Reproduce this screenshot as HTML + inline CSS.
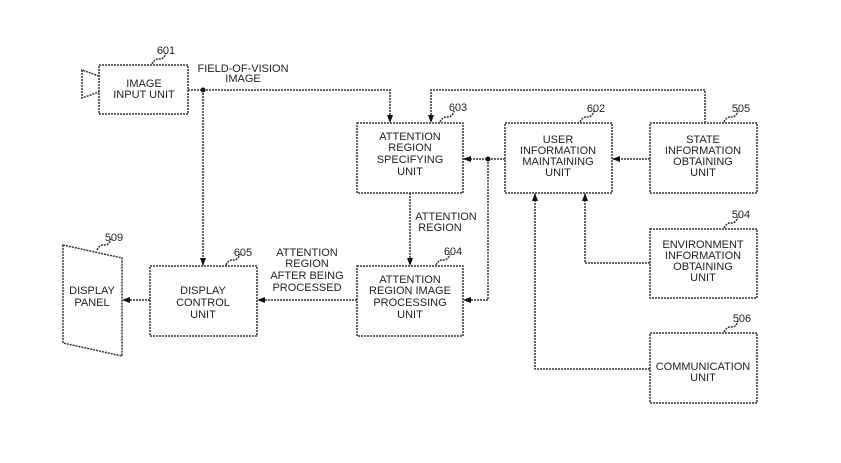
<!DOCTYPE html>
<html><head><style>body{margin:0;background:#fff}svg{display:block}text{font-family:"Liberation Sans",sans-serif;font-size:11px;fill:#222;text-anchor:middle}</style></head><body>
<svg width="841" height="463" viewBox="0 0 841 463">
<defs><marker id="a" markerWidth="8" markerHeight="8" refX="7" refY="4" orient="auto" markerUnits="userSpaceOnUse"><path d="M0,1 L8,4 L0,7z" fill="#111"/></marker></defs>
<g fill="none" stroke="#333" stroke-width="1.5" stroke-dasharray="2 1">
<rect x="99" y="65" width="89" height="49"/>
<path d="M99,76 L82,70 L82,98 L99,92"/>
<rect x="357" y="123" width="106" height="70"/>
<rect x="505" y="123" width="107" height="70"/>
<rect x="650" y="123" width="107" height="70"/>
<rect x="650" y="229" width="107" height="69"/>
<rect x="650" y="333" width="107" height="70"/>
<rect x="357" y="266" width="106" height="70"/>
<rect x="150" y="266" width="107" height="70"/>
<path d="M63,245 L122,258 L122,356 L63,343z"/>
<path d="M188,90 H390 V122" marker-end="url(#a)"/>
<path d="M203,90 V265" marker-end="url(#a)"/>
<path d="M705,123 V90 H431 V122" marker-end="url(#a)"/>
<path d="M650,159 H613" marker-end="url(#a)"/>
<path d="M505,159 H464" marker-end="url(#a)"/>
<path d="M488,159 V300 H464" marker-end="url(#a)"/>
<path d="M410,193 V265" marker-end="url(#a)"/>
<path d="M357,300 H258" marker-end="url(#a)"/>
<path d="M150,300 H123" marker-end="url(#a)"/>
<path d="M650,263 H585 V194" marker-end="url(#a)"/>
<path d="M650,369 H535 V194" marker-end="url(#a)"/>
<path d="M152,64 q3,-6 8,-5 q4,0 6,-6"/><path d="M440,122 q3,-6 8,-5 q4,0 6,-6"/><path d="M580,122 q3,-6 8,-5 q4,0 6,-6"/><path d="M724,122 q3,-6 8,-5 q4,0 6,-6"/><path d="M724,228 q3,-6 8,-5 q4,0 6,-6"/><path d="M724,332 q3,-6 8,-5 q4,0 6,-6"/><path d="M436,265 q3,-6 8,-5 q4,0 6,-6"/><path d="M226,265 q3,-6 8,-5 q4,0 6,-6"/><path d="M97,250 q3,-6 8,-5 q4,0 6,-6"/>
</g>
<g fill="#111"><circle cx="203" cy="90" r="2.5"/><circle cx="488" cy="159" r="2.5"/></g>
<text x="166" y="54">601</text><text x="458" y="111">603</text><text x="596" y="112">602</text><text x="741" y="112">505</text><text x="741" y="218">504</text><text x="742" y="322">506</text><text x="453" y="255">604</text><text x="243" y="256">605</text><text x="114" y="241">509</text>
<text x="144" y="87">IMAGE</text><text x="144" y="98">INPUT UNIT</text>
<text x="243" y="72">FIELD-OF-VISION</text><text x="243" y="82">IMAGE</text>
<text x="410" y="140">ATTENTION</text><text x="410" y="151">REGION</text><text x="410" y="163">SPECIFYING</text><text x="410" y="175">UNIT</text>
<text x="558" y="143">USER</text><text x="558" y="154">INFORMATION</text><text x="558" y="165">MAINTAINING</text><text x="558" y="176">UNIT</text>
<text x="703" y="143">STATE</text><text x="703" y="154">INFORMATION</text><text x="703" y="165">OBTAINING</text><text x="703" y="176">UNIT</text>
<text x="703" y="248">ENVIRONMENT</text><text x="703" y="259">INFORMATION</text><text x="703" y="270">OBTAINING</text><text x="703" y="281">UNIT</text>
<text x="703" y="370">COMMUNICATION</text><text x="703" y="381">UNIT</text>
<text x="446" y="220">ATTENTION</text><text x="440" y="231">REGION</text>
<text x="410" y="283">ATTENTION</text><text x="410" y="294">REGION IMAGE</text><text x="410" y="306">PROCESSING</text><text x="410" y="318">UNIT</text>
<text x="307" y="256">ATTENTION</text><text x="307" y="267">REGION</text><text x="307" y="279">AFTER BEING</text><text x="307" y="291">PROCESSED</text>
<text x="203" y="294">DISPLAY</text><text x="203" y="306">CONTROL</text><text x="203" y="318">UNIT</text>
<text x="92" y="294">DISPLAY</text><text x="92" y="306">PANEL</text>
</svg></body></html>
